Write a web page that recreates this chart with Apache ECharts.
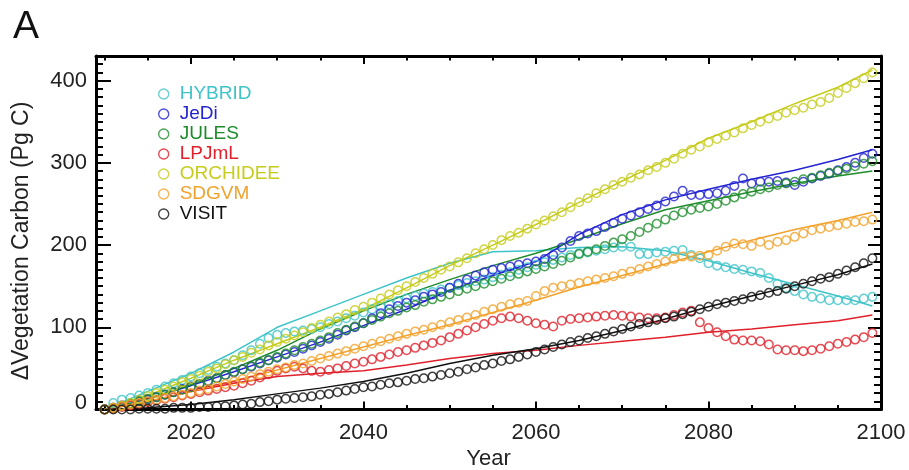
<!DOCTYPE html>
<html>
<head>
<meta charset="utf-8">
<script src="https://cdn.jsdelivr.net/npm/echarts@6/dist/echarts.min.js"></script>
<style>html,body{margin:0;padding:0;background:#fff}#c{width:909px;height:470px}</style>
</head>
<body>
<div id="c"></div>
<script>
// ---- data ----
const models = ['HYBRID', 'JeDi', 'JULES', 'LPJmL', 'ORCHIDEE', 'SDGVM', 'VISIT'];
const circleYears = Array.from({length: 90}, (_, i) => 2010 + i);
const lineYears = [2010,2015,2020,2025,2030,2035,2040,2045,2050,2055,2060,2065,2070,2075,2080,2085,2090,2095,2099];
const xMajorTicks = [2020, 2040, 2060, 2080, 2100];
const xMinorTicks = [2010,2015,2025,2030,2035,2045,2050,2055,2065,2070,2075,2085,2090,2095];
const yMajorTicks = [0, 100, 200, 300, 400];

const hybridCircles = [0,8,12,14,17,20,24,28,32,36,
40,44,48,52,56,60,66,72,80,87,
91,93,95,96,98,100,104,107,111,114,
118,122,125,128,132,135,138,141,143,146,
148,151,154,156,158,161,164,167,170,173,
176,179,182,185,188,190,191,193,195,197,
198,198,189,189,191,192,193,194,188,184,
178,175,173,171,170,168,166,160,153,148,
144,140,137,135,133,133,133,133,135,137];
const jediCircles = [0,2,5,7,10,12,15,18,21,25,
28,31,35,38,42,45,49,52,56,60,
63,67,70,74,78,82,86,91,96,100,
105,111,117,122,126,130,133,137,140,143,
148,153,158,163,167,170,172,174,176,178,
180,183,188,197,205,211,214,217,222,227,
232,236,240,244,248,253,259,266,261,261,
262,263,266,272,281,275,277,277,278,276,
273,277,281,284,287,291,295,300,306,311];
const julesCircles = [0,2,4,7,10,13,15,18,21,24,
27,31,34,38,42,46,49,53,57,60,
64,68,72,76,80,84,88,93,97,101,
105,109,113,117,120,124,127,131,134,137,
140,144,147,150,153,156,159,162,165,168,
171,174,177,181,185,189,192,195,199,203,
207,211,216,221,226,231,236,240,243,245,
247,250,254,258,262,265,268,270,273,275,
277,280,282,285,288,290,293,296,299,302];
const lpjmlCircles = [0,1,3,5,7,9,11,13,15,17,
19,21,23,25,27,29,32,35,39,43,
47,50,52,50,47,46,48,50,53,56,
58,61,64,67,70,72,75,78,81,84,
88,92,96,100,104,108,111,113,111,108,
105,103,101,108,110,111,112,113,114,115,
114,113,112,111,111,112,115,118,120,106,
99,94,89,85,84,84,83,79,73,72,
72,71,72,74,77,80,82,85,88,93];
const orchideeCircles = [0,2,5,8,12,16,20,24,28,33,
37,41,46,50,55,60,64,69,73,78,
82,86,90,94,99,103,107,112,116,121,
125,130,135,140,145,150,155,160,165,170,
174,179,184,190,195,200,206,211,215,220,
225,230,235,240,246,252,257,263,268,273,
277,282,286,291,295,300,305,311,316,320,
325,329,333,337,342,346,350,354,357,361,
364,367,371,374,379,385,391,397,403,410];
const sdgvmCircles = [0,2,4,6,8,10,12,14,16,18,
20,23,25,28,31,34,37,40,43,46,
49,51,54,56,59,62,65,68,71,74,
77,80,83,86,89,92,95,97,100,103,
106,109,112,115,119,122,125,128,130,132,
138,144,148,150,152,154,156,158,160,162,
165,168,171,174,177,180,183,186,186,187,
188,193,198,202,201,199,204,200,204,206,
210,214,218,220,222,224,226,228,229,231];
const visitCircles = [0,0,0,0,1,1,1,1,2,2,
2,3,3,4,4,5,6,7,9,10,
12,13,14,15,16,18,19,21,23,25,
27,28,30,32,33,35,37,38,40,42,
44,46,49,51,54,56,59,61,64,67,
70,73,76,79,82,84,87,89,92,95,
98,101,104,106,109,111,113,116,119,122,
125,128,130,132,134,137,139,142,144,147,
150,153,156,159,161,165,169,173,178,184];

const hybridLine   = [0,22,44,70,100,120,140,160,178,192,193,197,198,193,181,166,152,138,126];
const jediLine     = [0,13,29,46,64,82,102,122,145,163,180,213,237,255,268,280,291,304,316];
const julesLine    = [0,13,30,50,72,98,120,140,158,175,190,207,226,243,254,265,275,284,290];
const lpjmlLine    = [0,9,22,32,40,44,47,54,62,68,72,78,83,88,94,98,103,108,115];
const orchideeLine = [0,17,38,60,80,100,122,148,175,200,225,252,278,303,330,350,372,392,413];
const sdgvmLine    = [0,10,22,35,48,62,76,90,103,118,133,149,163,177,192,206,219,230,240];
const visitLine    = [0,2,6,12,19,26,34,44,56,66,74,84,96,110,125,138,151,164,177];

const circleSets = [hybridCircles, jediCircles, julesCircles, lpjmlCircles, orchideeCircles, sdgvmCircles, visitCircles];
const lineSets = [hybridLine, jediLine, julesLine, lpjmlLine, orchideeLine, sdgvmLine, visitLine];

// ---- styles ----
const colors = ['#3ec4c8', '#2323d2', '#1e8c2a', '#e0202a', '#c6cc1c', '#f2a22c', '#111111'];
const FONT = '"Liberation Sans", Arial, Helvetica, sans-serif';
const yMinorTicks = [];
for (let v = 10; v <= 420; v += 10) if (v % 100 !== 0) yMinorTicks.push(v);

const chart = echarts.init(document.getElementById('c'), null, {renderer: 'canvas'});

function xAx(pos, major) {
  return {
    type: 'value', position: pos, min: 2009, max: 2100, offset: 0,
    axisLine: {show: major, onZero: false, lineStyle: {color: '#000', width: 3}},
    axisTick: {show: true, inside: true, length: major ? 8 : 4.5,
      customValues: major ? xMajorTicks : xMinorTicks, lineStyle: {color: '#000', width: 2}},
    axisLabel: {show: major && pos === 'bottom', customValues: xMajorTicks,
      formatter: v => String(v),
      fontSize: 22, color: '#222', margin: 12, fontFamily: FONT},
    splitLine: {show: false},
    name: (major && pos === 'bottom') ? 'Year' : '',
    nameLocation: 'middle', nameGap: 33,
    nameTextStyle: {fontSize: 22, color: '#222', fontFamily: FONT}
  };
}
function yAx(pos, major) {
  const left = pos === 'left';
  return {
    type: 'value', position: pos, min: 0, max: 430, offset: 0,
    axisLine: {show: major, onZero: false, lineStyle: {color: '#000', width: 3}},
    axisTick: {show: true, inside: true, length: major ? (left ? 15 : 13) : 7,
      customValues: major ? yMajorTicks : yMinorTicks, lineStyle: {color: '#000', width: 2}},
    axisLabel: {show: major && left, customValues: yMajorTicks,
      fontSize: 22, color: '#222', margin: 9, fontFamily: FONT,
      formatter: v => v === 0 ? '{z|0}' : String(v),
      rich: {z: {fontSize: 22, color: '#222', fontFamily: FONT, padding: [0, 0, 13, 0]}}},
    splitLine: {show: false}
  };
}

const series = [];
models.forEach((m, i) => {
  series.push({
    type: 'line', name: m + ' fit', xAxisIndex: 0, yAxisIndex: 0,
    data: lineYears.map((y, j) => [y, lineSets[i][j]]),
    showSymbol: false, symbol: 'none', z: 2,
    lineStyle: {color: colors[i], width: 1.5}
  });
});
models.forEach((m, i) => {
  series.push({
    type: 'scatter', name: m, xAxisIndex: 0, yAxisIndex: 0, clip: false,
    data: circleYears.map((y, j) => [y, circleSets[i][j]]),
    symbol: 'circle', symbolSize: 8.5, z: 3,
    itemStyle: {color: 'rgba(0,0,0,0)', borderColor: colors[i], borderWidth: 1.5}
  });
});

chart.setOption({
  animation: false,
  backgroundColor: '#ffffff',
  textStyle: {fontFamily: FONT},
  title: {text: 'A', left: 13, top: 8, padding: 0,
    textStyle: {fontSize: 39, fontWeight: 'normal', color: '#111', fontFamily: FONT}},
  grid: {left: 96, right: 28, top: 56, bottom: 60.5, containLabel: false, outerBoundsMode: 'none'},
  legend: {
    orient: 'vertical', left: 158, top: 84, padding: 0, itemGap: 0,
    itemWidth: 12, itemHeight: 10, selectedMode: false,
    textStyle: {fontSize: 19, lineHeight: 20, fontFamily: FONT, padding: [0, 0, 0, 5]},
    data: models.map((m, i) => ({
      name: m, icon: 'circle',
      itemStyle: {color: 'rgba(0,0,0,0)', borderColor: colors[i], borderWidth: 1.4},
      textStyle: {color: colors[i], fontSize: 19, lineHeight: 20, fontFamily: FONT, padding: [0, 0, 0, 5]}
    }))
  },
  graphic: [{
    type: 'text', x: 22, y: 241, rotation: Math.PI / 2,
    style: {text: '\u0394Vegetation Carbon (Pg C)', fontSize: 23, fill: '#222', fontFamily: FONT,
      textAlign: 'center', textVerticalAlign: 'middle'}
  }],
  xAxis: [xAx('bottom', true), xAx('bottom', false), xAx('top', true), xAx('top', false)],
  yAxis: [yAx('left', true), yAx('left', false), yAx('right', true), yAx('right', false)],
  series: series
});
</script>
</body>
</html>
